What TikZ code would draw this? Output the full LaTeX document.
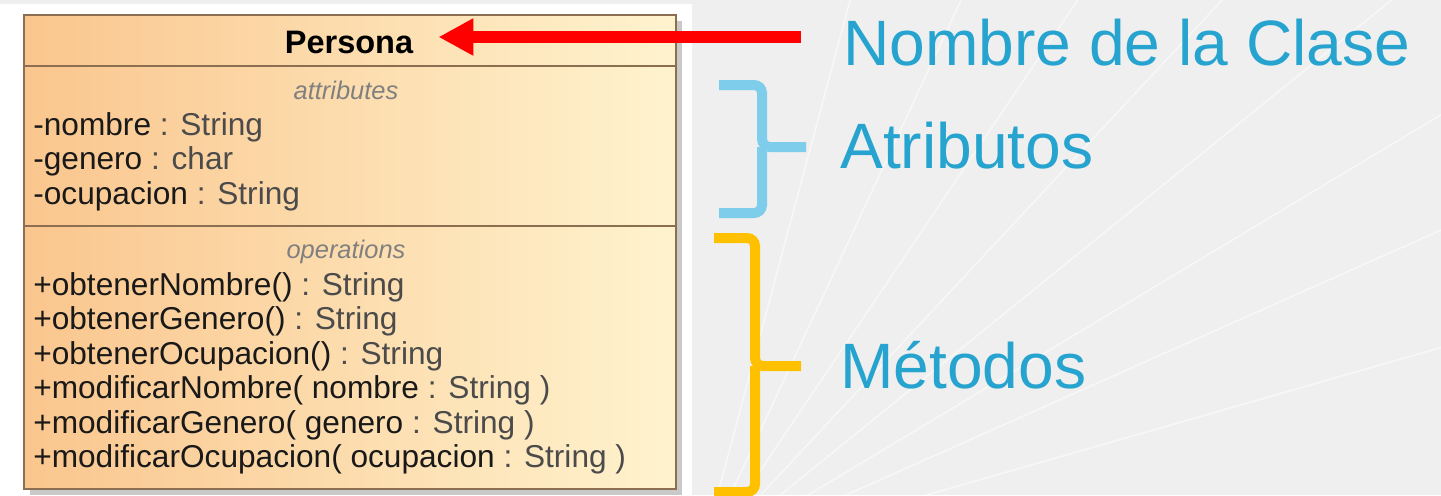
\documentclass[tikz,border=0pt]{standalone}
\usepackage{fontspec}
\setmainfont{Liberation Sans}
\usetikzlibrary{arrows.meta}
\definecolor{bggray}{RGB}{239,239,239}
\definecolor{umlborder}{RGB}{140,110,80}
\definecolor{umlorange}{RGB}{250,198,142}
\definecolor{umlcream}{RGB}{255,243,206}
\definecolor{typegray}{RGB}{75,75,75}
\definecolor{labelblue}{RGB}{38,164,207}
\definecolor{braceblue}{RGB}{126,205,234}
\definecolor{braceyellow}{RGB}{255,192,0}
\definecolor{arrowred}{RGB}{255,0,0}
\newcommand{\umlfont}{\fontsize{18}{20}\selectfont}
\begin{document}
\begin{tikzpicture}
[   x=0.02cm, y=-0.02cm,
    member/.style={anchor=base west,inner sep=0pt,font=\umlfont,text=black!90},
    compart/.style={anchor=base,inner sep=0pt,font=\fontsize{14.5}{16}\selectfont\itshape,text=gray},
    bigtag/.style={anchor=base west,inner sep=0pt,font=\fontsize{36.5}{40}\selectfont,text=labelblue},
    bracket/.style={line width=0.2cm,rounded corners=0.16cm},
]
    \useasboundingbox (0,0) rectangle (1441,495);
    \fill[bggray] (0,0) rectangle (1441,495);
    \fill[white] (0,4) rectangle (692,495);
    % light rays in the background
    \begin{scope}
        \clip (692,0) rectangle (1441,495);
        \foreach \a in {16,24,31,39,47,56,65,75}
        {   \draw[white,line width=0.03cm,opacity=0.55] (700,560) -- ++(-\a:900);
        }
    \end{scope}
    % class box
    \fill[gray!70,opacity=0.6] (30,21) rectangle (682,495);
    \draw[umlborder,line width=0.04cm,left color=umlorange,right color=umlcream] (24,15) rectangle (676,489);
    \draw[umlborder,line width=0.04cm] (24,66) -- (676,66);
    \draw[umlborder,line width=0.04cm] (24,226) -- (676,226);
    \node[anchor=base,inner sep=0pt,font=\fontsize{18.5}{20}\selectfont\bfseries] (persona) at (349,53) {Persona};
    \node[compart] (attr-title) at (346,99) {attributes};
    \node[compart] (op-title) at (346,258) {operations};
    \foreach \nm/\tp [count=\i] in {{-nombre}/{: String},{-genero}/{: char},{-ocupacion}/{: String}}
    {   \node[member] (attr-\i) at (33,{100.5+34.5*\i}) {\nm\ \textcolor{typegray}{\tp}};
    }
    \foreach \nm/\tp [count=\i] in {{+obtenerNombre()}/{: String},{+obtenerGenero()}/{: String},
        {+obtenerOcupacion()}/{: String},{+modificarNombre( nombre}/{: String )},
        {+modificarGenero( genero}/{: String )},{+modificarOcupacion( ocupacion}/{: String )}}
    {   \node[member] (op-\i) at (33,{260.5+34.5*\i}) {\nm\ \textcolor{typegray}{\tp}};
    }
    % labels on the right
    \node[bigtag] (nombre) at (843,65) {Nombre de la Clase};
    \node[bigtag] (atributos) at (840,168) {Atributos};
    \node[bigtag] (metodos) at (840,388) {Métodos};
    \coordinate (arrowtail) at (801,37);
    \draw[arrowred,line width=0.24cm,-{Triangle[length=0.7cm,width=0.7cm]},shorten >=0.5cm]
        (arrowtail) -- (persona.east |- arrowtail);
    % braces
    \draw[bracket,braceblue] (719,85) -- (762,85) -- (762,147) -- (806,147);
    \draw[bracket,braceblue] (762,147) -- (762,213) -- (719,213);
    \draw[bracket,braceyellow] (714,238) -- (755,238) -- (755,366) -- (801,366);
    \draw[bracket,braceyellow] (755,366) -- (755,492) -- (714,492);
\end{tikzpicture}
\end{document}
